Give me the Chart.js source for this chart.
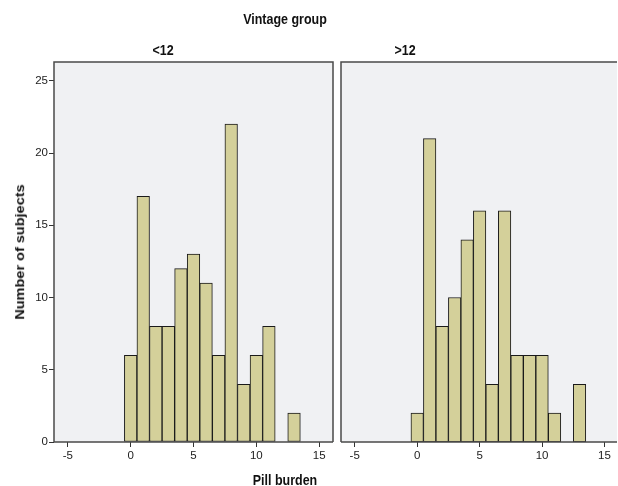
<!DOCTYPE html>
<html>
<head>
<meta charset="utf-8">
<script src="https://cdn.jsdelivr.net/npm/chart.js@4.4.0/dist/chart.umd.min.js"></script>
<style>
  html, body { margin: 0; padding: 0; background: #fff; overflow: hidden; }
  #wrap { position: relative; width: 618px; height: 486px; }
  canvas { position: absolute; top: 0; }
  .lbl {
    position: absolute; white-space: nowrap;
    font-family: "Liberation Sans", Arial, sans-serif; font-weight: bold;
    font-size: 14.5px; color: #111;
    transform: translate(-50%, -50%) scaleX(0.86);
  }
</style>
</head>
<body>
<div id="wrap">
  <canvas id="leftChart" style="left:0px"></canvas>
  <canvas id="rightChart" style="left:340px"></canvas>
  <div class="lbl" style="left:285px; top:19px;">Vintage group</div>
  <div class="lbl" style="left:163px; top:50px;">&lt;12</div>
  <div class="lbl" style="left:405px; top:50px;">&gt;12</div>
  <div class="lbl" style="left:285px; top:480px;">Pill burden</div>
  <div class="lbl" style="left:20px; top:252px; transform: translate(-50%, -50%) rotate(-90deg) scaleY(0.86);">Number of subjects</div>
</div>
<script>
// histogram bins (pill burden) and counts per vintage group
const pillBurden    = [0, 1, 2, 3, 4, 5, 6, 7, 8, 9, 10, 11, 12, 13];
const countsUnder12 = [6, 17, 8, 8, 12, 13, 11, 6, 22, 4, 6, 8, 0, 2];
const countsOver12  = [2, 21, 8, 10, 14, 16, 4, 16, 6, 6, 6, 2, 0, 4];
const xTicks = [-5, 0, 5, 10, 15];
const yTicks = [0, 5, 10, 15, 20, 25];

const barFill = '#d4d09a';
const panelBg = '#f0f1f3';

// draws the grey panel and its frame
const panelPlugin = {
    id: 'panel',
    beforeDraw(chart) {
        const a = chart.chartArea, ctx = chart.ctx;
        ctx.save();
        ctx.fillStyle = panelBg;
        ctx.fillRect(a.left, a.top, a.right - a.left, a.bottom - a.top);
        ctx.restore();
    },
    afterDatasetsDraw(chart, args, opts) {
        const a = chart.chartArea, ctx = chart.ctx;
        ctx.save();
        ctx.strokeStyle = '#4a4a4a';
        ctx.lineWidth = 1.5;
        ctx.beginPath();
        ctx.moveTo(a.left, a.bottom);
        ctx.lineTo(a.left, a.top);
        ctx.lineTo(a.right, a.top);
        if (opts.rightSide) ctx.lineTo(a.right, a.bottom);
        ctx.moveTo(a.left, a.bottom);
        ctx.lineTo(a.right, a.bottom);
        ctx.stroke();
        ctx.restore();
    }
};

function makeChart(id, counts, width, showY, padding, xMax, rightSide) {
    const canvas = document.getElementById(id);
    canvas.width = width;
    canvas.height = 486;
    canvas.style.width = width + 'px';
    canvas.style.height = '486px';
    const tickFont = { family: '"Liberation Sans", Arial, sans-serif', size: 11.5 };
    return new Chart(canvas.getContext('2d'), {
        type: 'bar',
        data: {
            datasets: [{
                data: pillBurden.map((x, i) => ({ x: x, y: counts[i] })),
                backgroundColor: barFill,
                borderColor: '#1a1a1a',
                borderWidth: 1,
                borderSkipped: false,
                barPercentage: 1,
                categoryPercentage: 1
            }]
        },
        options: {
            responsive: false,
            animation: false,
            devicePixelRatio: 1,
            layout: { padding: padding },
            plugins: {
                legend: { display: false },
                tooltip: { enabled: false },
                panel: { rightSide: rightSide }
            },
            scales: {
                x: {
                    type: 'linear',
                    min: -6.1,
                    max: xMax,
                    offset: false,
                    border: { display: false },
                    grid: { display: true, offset: false, drawOnChartArea: false, drawTicks: true, tickLength: 5, tickColor: '#333' },
                    afterBuildTicks: s => { s.ticks = xTicks.map(v => ({ value: v })); },
                    afterFit: s => { s.height = 30; },
                    ticks: { color: '#222', font: tickFont, padding: 2, maxRotation: 0 }
                },
                y: {
                    display: showY,
                    min: 0,
                    max: 26.3,
                    border: { display: false },
                    grid: { display: true, offset: false, drawOnChartArea: false, drawTicks: true, tickLength: 5, tickColor: '#333' },
                    afterBuildTicks: s => { s.ticks = yTicks.map(v => ({ value: v })); },
                    afterFit: s => { s.width = showY ? 54 : 0; },
                    ticks: { color: '#222', font: tickFont, padding: 1 }
                }
            }
        },
        plugins: [panelPlugin]
    });
}

makeChart('leftChart', countsUnder12, 340, true, { left: 0, top: 62, right: 7, bottom: 14 }, 16.1, true);
makeChart('rightChart', countsOver12, 278, false, { left: 1, top: 62, right: 1, bottom: 14 }, 16.0, false);
</script>
</body>
</html>
